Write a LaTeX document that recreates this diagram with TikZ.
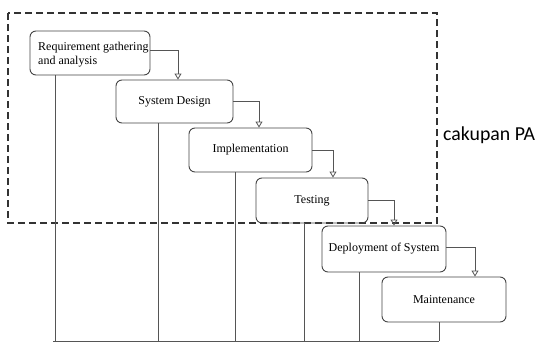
\documentclass[tikz,border=0pt]{standalone}
\usepackage{fontspec}
\setmainfont{Liberation Serif}
\newfontfamily\labelfont{Carlito}
\usetikzlibrary{arrows.meta}
\definecolor{boxline}{HTML}{444444}
\definecolor{conline}{HTML}{555555}
\definecolor{dashline}{HTML}{333333}
\tikzset{
  stage/.style={draw=boxline, line width=0.9pt, rounded corners=6pt, inner sep=0pt,
    font=\fontsize{12}{14.5}\selectfont},
  flow/.style={draw=conline, line width=0.8pt, -{Triangle[open,length=6pt,width=7pt]}},
  drop/.style={draw=conline, line width=0.8pt},
  scope box/.style={draw=dashline, line width=2pt, dash pattern=on 7pt off 4pt}
}
\begin{document}
\begin{tikzpicture}[x=1pt,y=-1pt]
\useasboundingbox (0,0) rectangle (539,343);
\draw[scope box] (8,13) rectangle (437,223);
\node[anchor=west, font=\labelfont\fontsize{19.8}{22}\selectfont, inner sep=0pt] (pa) at (443,135) {cakupan PA};

\node[stage, minimum width=120pt, minimum height=44pt] (b1) at (90,53) {};
\node[anchor=north west, align=left, font=\fontsize{12}{14.5}\selectfont, inner sep=0pt] (t1) at (38,41.5) {Requirement gathering\\and analysis};
\node[stage, minimum width=117pt, minimum height=43pt] (b2) at (174.5,101.5) {System Design};
\node[stage, minimum width=123pt, minimum height=44pt] (b3) at (250.5,150) {Implementation};
\node[stage, minimum width=112pt, minimum height=45pt] (b4) at (312,200.5) {Testing};
\node[stage, minimum width=124pt, minimum height=46pt] (b5) at (384,249) {Deployment of System};
\node[stage, minimum width=124pt, minimum height=45pt] (b6) at (444,299.5) {Maintenance};

\draw[flow] ([yshift=3pt]b1.east) -| (178,0 |- b2.north);
\draw[flow] (b2.east) -| (259,0 |- b3.north);
\draw[flow] (b3.east) -| (333,0 |- b4.north);
\draw[flow] (b4.east) -| (394,0 |- b5.north);
\draw[flow] ([yshift=2pt]b5.east) -| (475,0 |- b6.north);

\coordinate (bl) at (53,341);
\coordinate (br) at (439,341);
\draw[drop] (55,0 |- b1.south) -- (55,0 |- bl);
\draw[drop] (158,0 |- b2.south) -- (158,0 |- bl);
\draw[drop] (235,0 |- b3.south) -- (235,0 |- bl);
\draw[drop] (304,0 |- b4.south) -- (304,0 |- bl);
\draw[drop] (359,0 |- b5.south) -- (359,0 |- bl);
\draw[drop] (439,0 |- b6.south) -- (br);
\draw[drop] (bl) -- (br);
\end{tikzpicture}
\end{document}
